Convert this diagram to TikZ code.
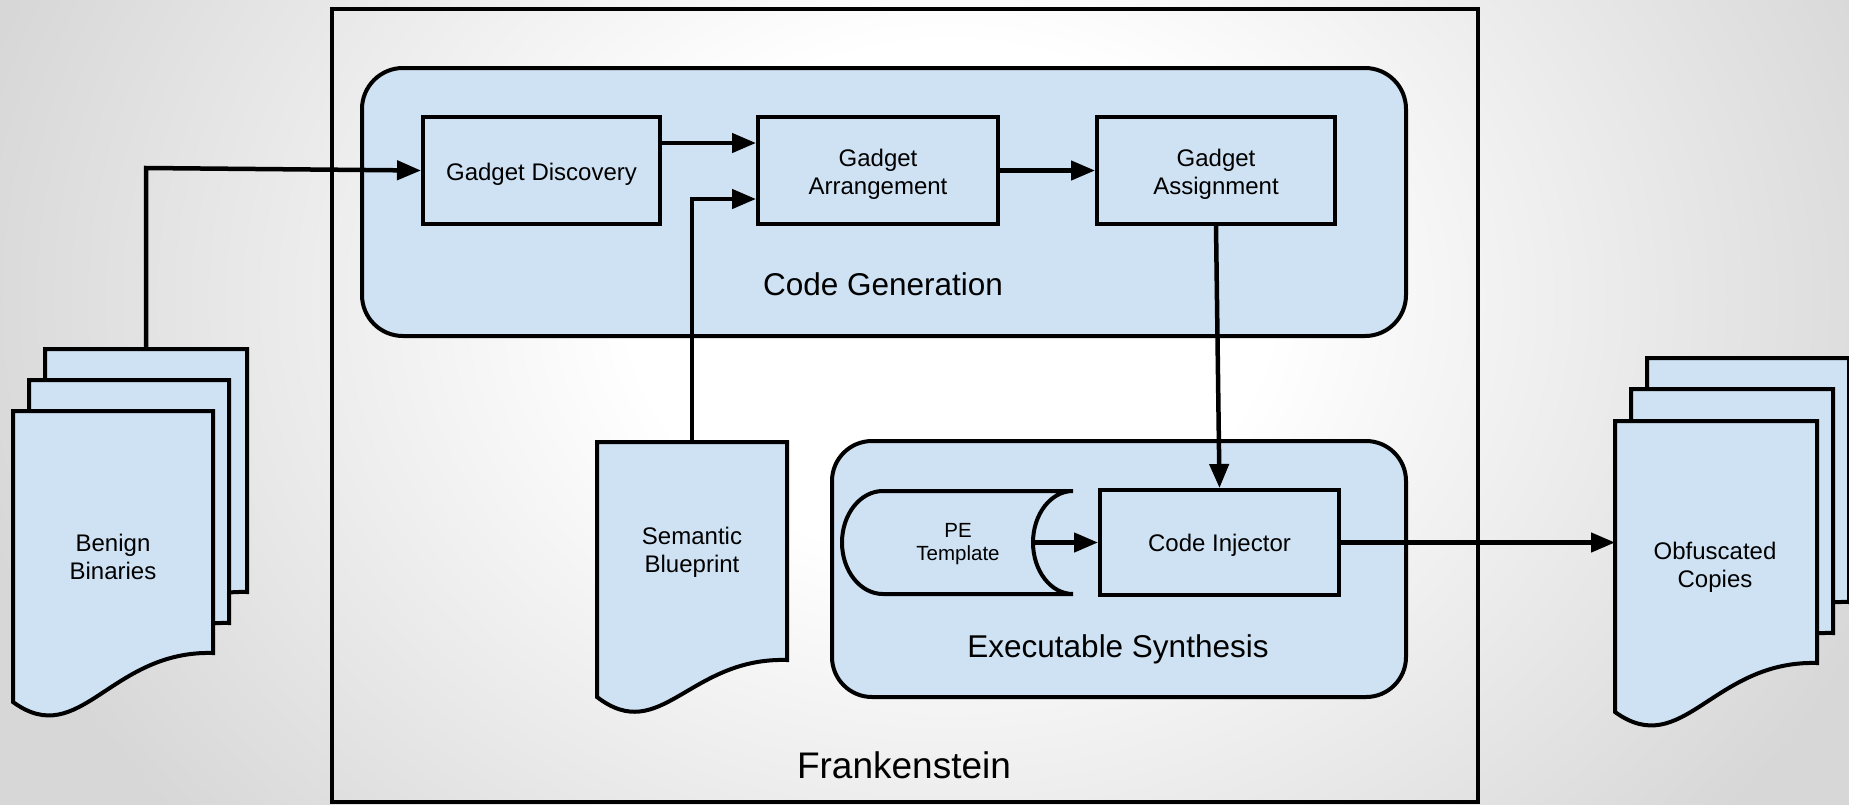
\documentclass[tikz,border=0pt]{standalone}
\usepackage{fontspec}
\setmainfont{Liberation Sans}
\usetikzlibrary{arrows.meta}
\definecolor{boxblue}{HTML}{CFE2F3}
\definecolor{bggray}{gray}{0.845}
\pgfdeclareradialshading{bgshade}{\pgfpoint{0bp}{0bp}}{color(0bp)=(white); color(8bp)=(white); color(25bp)=(bggray); color(50bp)=(bggray)}
\newcommand{\docpage}[5]{% x0, ytop, w, yr, yl
  \filldraw[thick line, fill=boxblue] (#1,#5) -- (#1,#2) -- ({#1+#3},#2) -- ({#1+#3},#4)
    .. controls ({#1+0.485*#3},{#4-3}) and ({#1+0.335*#3},{#5+49}) .. (#1,#5) -- cycle;}
\tikzset{
  thick line/.style={line width=4pt, line join=miter},
  arr/.style={line width=4.5pt, -{Triangle[length=24pt,width=19pt]}},
  stagebox/.style={draw, line width=4pt, fill=boxblue, minimum width=237pt, minimum height=107pt, inner sep=0pt},
  boxtext/.style={align=center, inner sep=0pt, yshift=-3.5pt, font=\fontsize{24}{28}\selectfont},
  container/.style={draw, line width=4pt, fill=boxblue, rounded corners=41pt, inner sep=0pt},
  doctext/.style={align=center, font=\fontsize{24}{28}\selectfont},
  title/.style={font=\fontsize{31.5}{36}\selectfont},
}
\begin{document}
\begin{tikzpicture}[x=1pt, y=-1pt]
\useasboundingbox (0,0) rectangle (1849,804);
\clip (0,0) rectangle (1849,804);
\shade[shading=bgshade] (-50,-500) rectangle (1950,1100);

% outer frame
\node[draw, line width=4pt, minimum width=1146pt, minimum height=793pt, inner sep=0pt] (frank) at (905,405.5) {};
\node[font=\fontsize{37}{42}\selectfont] (franklabel) at (904,765) {Frankenstein};

% containers
\node[container, minimum width=1044pt, minimum height=268pt] (cg) at (884,202) {};
\node[title] (cglabel) at (883,284) {Code Generation};
\node[container, minimum width=574pt, minimum height=256pt, rounded corners=40pt] (es) at (1119,569) {};
\node[title, yshift=-2.5pt] (eslabel) at (1118,647) {Executable Synthesis};

% stage boxes
\node[stagebox] (gd) at (541.5,170.5) {};
\node[boxtext] (gdtext) at (gd) {Gadget Discovery};
\node[stagebox, minimum width=240pt] (ga) at (878,170.5) {};
\node[boxtext] (gatext) at (ga) {Gadget\\Arrangement};
\node[stagebox, minimum width=238pt] (gas) at (1216,170.5) {};
\node[boxtext] (gastext) at (gas) {Gadget\\Assignment};
\node[stagebox, minimum width=239pt, minimum height=105pt] (ci) at (1219.5,542.5) {};
\node[boxtext, yshift=1pt] (citext) at (ci) {Code Injector};

% PE template (stored data shape)
\filldraw[thick line, fill=boxblue] (1073,491) -- (883,491)
  arc[start angle=270, end angle=90, x radius=41, y radius=51.5] -- (1073,594)
  arc[start angle=90, end angle=270, x radius=40, y radius=51.5];
\node[align=center, yshift=-2.5pt, font=\fontsize{20.5}{23}\selectfont] (pe) at (958,542) {PE\\Template};
\coordinate (peout) at (1033,542.5);

% Benign binaries stack
\docpage{45}{349}{202}{592}{641}
\docpage{29}{380}{200}{623}{672}
\docpage{13}{411}{200}{653}{702}
\node[doctext] (benign) at (113,557) {Benign\\Binaries};
\coordinate (benigntop) at (146,349);
\coordinate (bend) at (146,168);

% Semantic blueprint
\docpage{597}{442}{190}{660}{697}
\node[doctext] (sb) at (692,552) {Semantic\\Blueprint};
\coordinate (sbtop) at (692,442);

% Obfuscated copies stack
\docpage{1647}{358}{202}{602}{651}
\docpage{1631}{389}{202}{633}{682}
\docpage{1615}{421}{202}{663}{712}
\node[doctext] (obf) at (1715,567) {Obfuscated\\Copies};
\coordinate (obfin) at (1615,542.5);

% helper levels
\coordinate (yA) at (0,143);
\coordinate (yB) at (0,199);

% connectors
\draw[arr] (benigntop) -- (bend) -- (gd.west);
\draw[arr] (gd.east |- yA) -- (ga.west |- yA);
\draw[arr] (sbtop) |- (ga.west |- yB);
\draw[arr] (ga.east) -- (gas.west);
\draw[arr] (gas.south) -- (ci.north);
\draw[arr] (peout) -- (ci.west);
\draw[arr] (ci.east) -- (obfin);
\end{tikzpicture}
\end{document}
